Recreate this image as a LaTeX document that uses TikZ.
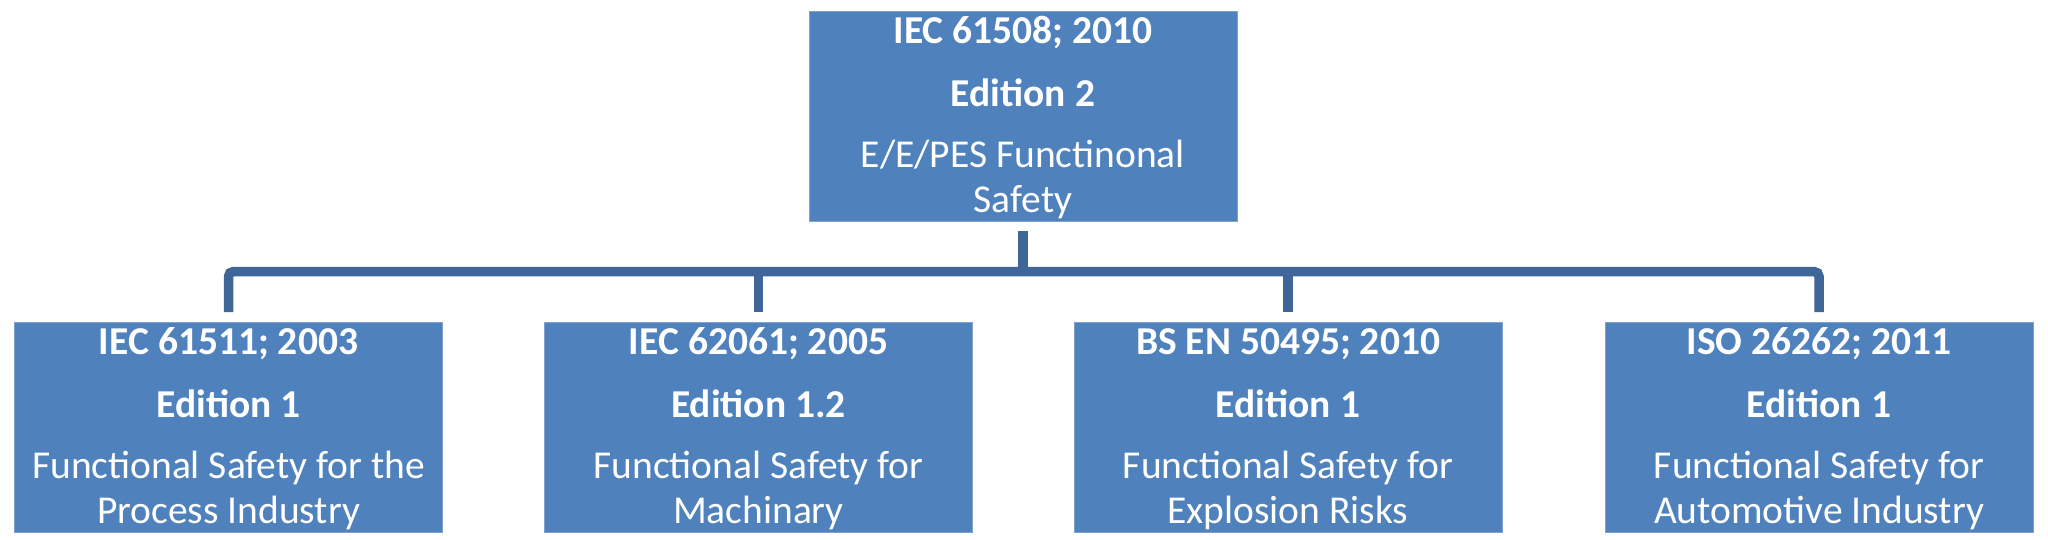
\documentclass[tikz,border=0pt]{standalone}
\usepackage{fontspec}
\setmainfont{Carlito}
\definecolor{boxblue}{HTML}{4F81BD}
\definecolor{boxedge}{HTML}{7FA3D0}
\definecolor{linkblue}{HTML}{3F6699}
\tikzset{
  stdbox/.style={rectangle, fill=boxblue, draw=boxedge, line width=1pt,
    minimum width=428pt, minimum height=210pt, inner sep=0pt, outer sep=0pt},
  boldline/.style={anchor=base, text=white, inner sep=0pt,
    font=\fontsize{39.5}{45}\selectfont\bfseries},
  normline/.style={anchor=base, text=white, inner sep=0pt,
    font=\fontsize{39.5}{45}\selectfont},
  link/.style={draw=linkblue, line width=9.5pt},
}
\newcommand\fillbox[6]{%
  \node[stdbox] (#1) at (#2) {};
  \node[boldline] (#1a) at ([yshift=-32pt]#1.north) {#3};
  \node[boldline] (#1b) at ([yshift=-95pt]#1.north) {#4};
  \node[normline] (#1c) at ([yshift=-156pt]#1.north) {#5};
  \node[normline] (#1d) at ([yshift=-201pt]#1.north) {#6};
}
\begin{document}
\begin{tikzpicture}[x=1pt, y=-1pt]
\useasboundingbox (0,0) rectangle (2048,539);
\fillbox{top}{1023,116}{IEC 61508; 2010}{Edition 2}{E/E/PES Functinonal}{Safety}
\fillbox{c1}{228.5,427}{IEC 61511; 2003}{Edition 1}{Functional Safety for the}{Process Industry}
\fillbox{c2}{758.5,427}{IEC 62061; 2005}{Edition 1.2}{Functional Safety for}{Machinary}
\fillbox{c3}{1288,427}{BS EN 50495; 2010}{Edition 1}{Functional Safety for}{Explosion Risks}
\fillbox{c4}{1819,427}{ISO 26262; 2011}{Edition 1}{Functional Safety for}{Automotive Industry}
\coordinate (bar) at (1023,271.5);
\draw[link] ([yshift=-10pt]top.south) -- (top.south |- bar);
\draw[link, rounded corners=5pt] ([yshift=10pt]c1.north) -- (c1.north |- bar) -- (c4.north |- bar) -- ([yshift=10pt]c4.north);
\draw[link] ([yshift=10pt]c2.north) -- (c2.north |- bar);
\draw[link] ([yshift=10pt]c3.north) -- (c3.north |- bar);
\end{tikzpicture}
\end{document}
